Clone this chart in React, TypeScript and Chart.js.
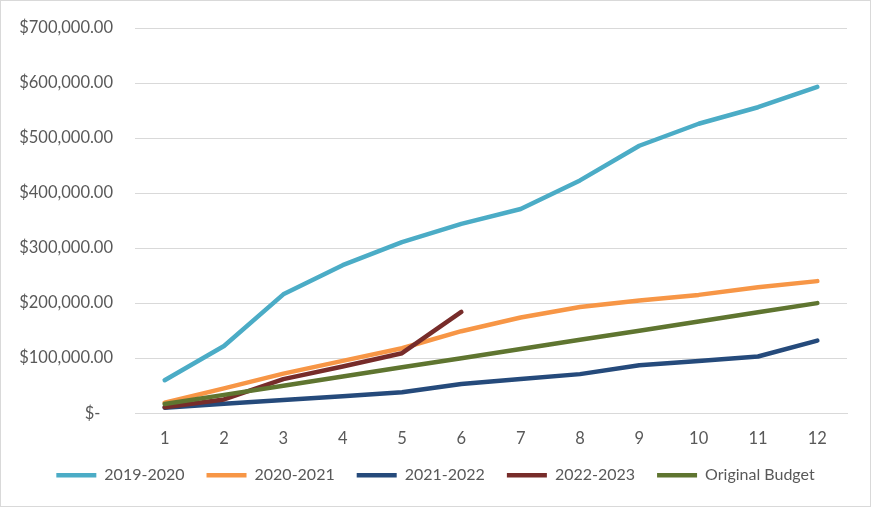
import { useEffect, useRef } from "react";
import { Chart, registerables } from "chart.js";

Chart.register(...registerables);

const months = ["1", "2", "3", "4", "5", "6", "7", "8", "9", "10", "11", "12"];
const s2019 = [60000, 122000, 216000, 269000, 311000, 344000, 371000, 423000, 486000, 526000, 556000, 593000];
const s2020 = [19000, 45000, 72000, 95000, 118000, 149000, 174000, 193000, 205000, 215000, 229000, 240000];
const s2021 = [10000, 17000, 24000, 31000, 38000, 53000, 62000, 71000, 87000, 95000, 103000, 132000];
const s2022 = [11000, 25000, 62000, 85000, 109000, 184000];
const budget = [16667, 33333, 50000, 66667, 83333, 100000, 116667, 133333, 150000, 166667, 183333, 200000];

const seriesNames = ["2019-2020", "2020-2021", "2021-2022", "2022-2023", "Original Budget"];
const seriesColors = ["#4BACC6", "#F79646", "#254A7B", "#772C2A", "#5F7530"];

const fmt = (v: number) => {
  if (v === 0) return "$-   ";
  return "$" + v.toLocaleString("en-US", { minimumFractionDigits: 2, maximumFractionDigits: 2 });
};

export default function App() {
  const ref = useRef<HTMLCanvasElement>(null);
  useEffect(() => {
    document.body.style.margin = "0";
    const all = [s2019, s2020, s2021, s2022, budget];
    const chart = new Chart(ref.current!, {
      type: "line",
      data: {
        labels: months,
        datasets: all.map((d, i) => ({
          label: seriesNames[i],
          data: d,
          borderColor: seriesColors[i],
          backgroundColor: seriesColors[i],
          borderWidth: 4.5,
          borderCapStyle: "round" as const,
          borderJoinStyle: "round" as const,
          pointRadius: 0,
          pointStyle: "line" as const,
          tension: 0,
          order: 5 - i,
        })),
      },
      options: {
        animation: false,
        responsive: true,
        maintainAspectRatio: false,
        layout: { padding: { top: 27, right: 11.5, left: 11.5, bottom: 12.8 } },
        plugins: {
          tooltip: { enabled: false },
          legend: {
            position: "bottom",
            labels: {
              usePointStyle: true,
              pointStyleWidth: 40,
              padding: 22,
              color: "#595959",
              font: { family: "Lato", size: 16 },
              sort: (a: any, b: any) => a.datasetIndex - b.datasetIndex,
            },
          },
        },
        scales: {
          x: {
            offset: true,
            afterFit: (s: any) => {
              s.height = 32;
              s.paddingLeft = 0;
              s.paddingRight = 0;
            },
            grid: { display: false, drawTicks: false },
            border: { display: true, color: "#D9D9D9", width: 1 },
            ticks: { color: "#595959", font: { family: "Lato", size: 16.5 }, padding: 16 },
          },
          y: {
            min: 0,
            max: 700000,
            afterFit: (s: any) => {
              s.width = 122.5;
              s.paddingTop = 0;
              s.paddingBottom = 0;
            },
            grid: { color: "#D9D9D9", lineWidth: 1, drawTicks: false },
            border: { display: false },
            ticks: {
              stepSize: 100000,
              color: "#595959",
              font: { family: "Lato", size: 16.5 },
              padding: 22,
              callback: (v: any) => fmt(Number(v)),
            },
          },
          y2: {
            position: "right",
            display: true,
            afterFit: (s: any) => {
              s.width = 11.5;
              s.paddingTop = 0;
              s.paddingBottom = 0;
            },
            grid: { display: false, drawTicks: false },
            border: { display: false },
            ticks: { display: false },
          },
        },
      },
    });
    return () => chart.destroy();
  }, []);
  return (
    <div
      style={{
        position: "fixed",
        left: 0,
        top: 0,
        width: 871,
        height: 507,
        boxSizing: "border-box",
        border: "1px solid #D9D9D9",
        background: "#fff",
      }}
    >
      <div style={{ position: "relative", width: "100%", height: "100%" }}>
        <canvas ref={ref} />
      </div>
    </div>
  );
}
